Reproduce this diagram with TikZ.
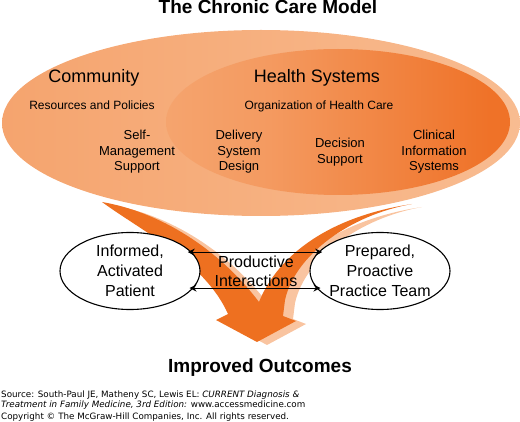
\documentclass[tikz,border=0pt]{standalone}
\usepackage{fontspec}
\setmainfont{Liberation Sans}
\newfontfamily\srcfont{DejaVu Sans}[ItalicFont={DejaVu Sans Oblique}]
\usetikzlibrary{arrows.meta,positioning,calc,shapes.geometric}
\definecolor{ccmpeach}{RGB}{245,164,110}
\definecolor{ccmrim}{RGB}{248,188,145}
\definecolor{ccmdeep}{RGB}{239,114,40}
\definecolor{ccmarrow}{RGB}{238,112,32}
\definecolor{ccmshadow}{RGB}{249,196,160}
\pgfdeclarehorizontalshading{ccminner}{100bp}{color(0bp)=(ccmpeach); color(25bp)=(ccmpeach);
    color(40bp)=(ccmpeach!80!ccmdeep); color(72bp)=(ccmdeep); color(100bp)=(ccmdeep)}
\tikzset{
    headline/.style={anchor=base,font=\fontsize{19}{22}\selectfont\bfseries},
    area/.style={anchor=base,font=\fontsize{18}{21}\selectfont},
    sublabel/.style={anchor=base,font=\fontsize{12}{14}\selectfont},
    element/.style={align=center,font=\fontsize{13}{15.5}\selectfont},
    party/.style={ellipse,draw,line width=1.1pt,fill=white,minimum width=140pt,minimum height=77pt,
        inner xsep=-3pt,inner ysep=-1pt,align=center,font=\fontsize{16}{20}\selectfont},
    link/.style={{Stealth[length=7pt,width=7pt]}-{Stealth[length=7pt,width=7pt]},line width=1pt},
    source/.style={anchor=base west,inner sep=0pt,font=\srcfont\fontsize{8.75}{10}\selectfont}
}

\begin{document}
\begin{tikzpicture}[x=1pt,y=-1pt]
    \useasboundingbox (0,0) rectangle (520,422);
    % the V arrow, shadow first
    \foreach \dx/\dy/\col in {10/3/ccmshadow,0/0/ccmarrow}
        \fill[\col,shift={(\dx,\dy)}] (102,202) .. controls (160,212) and (218,248) .. (259,302)
            .. controls (275,262) and (320,218) .. (412,204)
            .. controls (350,215) and (295,255) .. (285,300)
            -- (283,316) -- (296,321) -- (257,342) -- (216,320) -- (228,314)
            .. controls (205,262) and (140,230) .. (102,202) -- cycle;
    % the model
    \shade[left color=ccmpeach,middle color=ccmpeach,right color=ccmrim] (261,123) ellipse [x radius=259pt,y radius=93pt];
    \shade[shading=ccminner] (338,122) ellipse [x radius=172pt,y radius=73pt];
    \node[headline] (title) at (268,14) {The Chronic Care Model};
    \node[area] (comm) at (94,83) {Community};
    \node[area] (hsys) at (317,83) {Health Systems};
    \node[sublabel] (res) at (92,110) {Resources and Policies};
    \node[sublabel] (org) at (319,110) {Organization of Health Care};
    \node[element] (sms) at (137,152) {Self-\\Management\\Support};
    \node[element] (dsd) at (239,152) {Delivery\\System\\Design};
    \node[element] (dec) at (340,152) {Decision\\Support};
    \node[element] (cis) at (434,152) {Clinical\\Information\\Systems};
    % interactions
    \node[party] (pat) at (130,271) {Informed,\\Activated\\Patient};
    \node[party] (team) at (380,271) {Prepared,\\Proactive\\Practice Team};
    \draw[link,shorten <=-4pt,shorten >=-4pt] (pat.17) -- (team.163);
    \draw[link,shorten <=-4pt,shorten >=-4pt] (pat.-15) -- (team.-165);
    \node[element,font=\fontsize{16}{19}\selectfont] (prod) at (256,271) {Productive\\Interactions};
    \node[headline] (out) at (260,373) {Improved Outcomes};
    % source lines
    \node[source] (src1) at (1,397) {Source: South-Paul JE, Matheny SC, Lewis EL: \textit{CURRENT Diagnosis \&}};
    \node[source] (src2) at (1,407) {\textit{Treatment in Family Medicine, 3rd Edition:} www.accessmedicine.com};
    \node[source] (src3) at (1,419) {Copyright © The McGraw-Hill Companies, Inc. All rights reserved.};
\end{tikzpicture}
\end{document}
